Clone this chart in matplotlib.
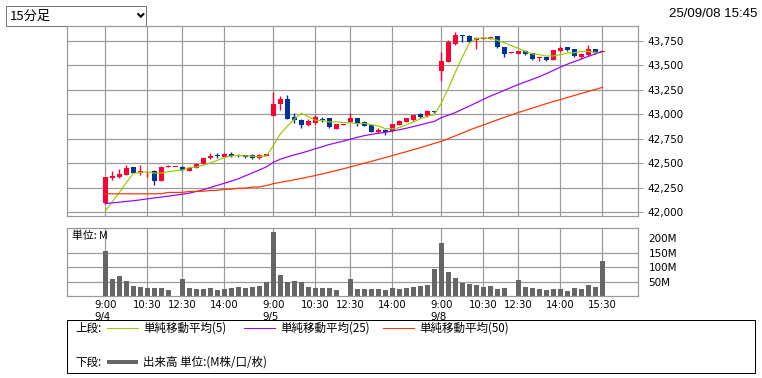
import matplotlib
matplotlib.use('Agg')
import matplotlib.pyplot as plt
from matplotlib.patches import Rectangle
import numpy as np

# ---- data ----
dates = ['9/4', '9/5', '9/8']
session = ['9:00', '9:15', '9:30', '9:45', '10:00', '10:15', '10:30', '10:45', '11:00', '11:15', '11:30',
           '12:30', '12:45', '13:00', '13:15', '13:30', '13:45', '14:00', '14:15', '14:30', '14:45',
           '15:00', '15:15', '15:30']
tick_times = ['9:00', '10:30', '12:30', '14:00']

opens = [42089, 42350, 42360, 42382, 42460, 42400, 42395, 42420, 42320, 42460, 42458, 42460,
         42420, 42450, 42490, 42548, 42583, 42566, 42593, 42585, 42580, 42582, 42555, 42570,
         42982, 43105, 43156, 42972, 42942, 42894, 42911, 42955, 42962, 42853, 42892, 42921,
         42962, 42921, 42894, 42816, 42839, 42826, 42894, 42921, 42938, 43003, 42982, 43034,
         43446, 43538, 43722, 43811, 43801, 43760, 43770, 43770, 43801, 43688, 43628, 43617,
         43648, 43627, 43578, 43586, 43560, 43648, 43688, 43668, 43586, 43607, 43668, 43640]
highs = [42362, 42420, 42435, 42480, 42462, 42480, 42415, 42425, 42470, 42480, 42464, 42470,
         42455, 42497, 42556, 42600, 42607, 42600, 42614, 42595, 42585, 42590, 42590, 42595,
         43228, 43190, 43197, 43010, 42952, 42952, 42990, 42972, 42965, 42905, 42897, 43013,
         42965, 42931, 42900, 42863, 42850, 42905, 42940, 42965, 42996, 43013, 43044, 43037,
         43637, 43760, 43842, 43815, 43811, 43791, 43795, 43801, 43805, 43692, 43640, 43650,
         43660, 43630, 43590, 43590, 43662, 43699, 43692, 43672, 43622, 43709, 43672, 43648]
lows = [42085, 42328, 42350, 42380, 42398, 42382, 42355, 42280, 42318, 42458, 42456, 42420,
        42415, 42448, 42488, 42546, 42553, 42560, 42560, 42558, 42555, 42545, 42545, 42568,
        42980, 43045, 42950, 42911, 42863, 42880, 42905, 42920, 42855, 42850, 42890, 42918,
        42880, 42875, 42820, 42805, 42785, 42822, 42890, 42918, 42935, 42965, 42975, 43013,
        43344, 43535, 43712, 43740, 43735, 43668, 43765, 43766, 43678, 43586, 43625, 43615,
        43610, 43560, 43545, 43545, 43555, 43640, 43648, 43586, 43569, 43600, 43617, 43638]
closes = [42358, 42370, 42390, 42450, 42400, 42415, 42400, 42320, 42460, 42470, 42462, 42430,
          42450, 42495, 42553, 42576, 42572, 42593, 42572, 42570, 42562, 42555, 42583, 42590,
          43105, 43156, 42952, 42942, 42894, 42931, 42972, 42945, 42865, 42900, 42894, 42962,
          42901, 42880, 42822, 42839, 42816, 42901, 42935, 42962, 42993, 42976, 43034, 43018,
          43548, 43740, 43811, 43801, 43740, 43781, 43781, 43791, 43688, 43617, 43636, 43648,
          43620, 43566, 43586, 43556, 43658, 43678, 43658, 43597, 43617, 43668, 43627, 43644]

ma5 = [42010, 42105, 42200, 42300, 42394, 42405, 42411, 42397, 42399, 42413, 42422, 42428,
       42454, 42461, 42478, 42501, 42529, 42558, 42573, 42577, 42574, 42570, 42568, 42572,
       42679, 42798, 42877, 42949, 43010, 42975, 42938, 42937, 42921, 42923, 42915, 42913,
       42904, 42907, 42892, 42881, 42852, 42852, 42863, 42891, 42921, 42953, 42980, 42997,
       43114, 43263, 43430, 43584, 43728, 43775, 43783, 43779, 43756, 43732, 43703, 43676,
       43642, 43617, 43611, 43595, 43597, 43609, 43627, 43629, 43642, 43644, 43633, 43631]
ma25 = [42087, 42093, 42100, 42108, 42115, 42124, 42134, 42144, 42153, 42162, 42172, 42182,
        42193, 42210, 42228, 42250, 42272, 42294, 42316, 42340, 42370, 42400, 42430, 42461,
        42508, 42540, 42563, 42585, 42603, 42624, 42647, 42668, 42690, 42708, 42725, 42745,
        42764, 42781, 42794, 42805, 42815, 42828, 42842, 42857, 42874, 42891, 42910, 42927,
        42965, 42991, 43017, 43051, 43083, 43118, 43152, 43185, 43215, 43245, 43274, 43304,
        43331, 43357, 43385, 43415, 43448, 43482, 43512, 43539, 43565, 43592, 43618, 43643]
ma50 = [42186, 42186, 42186, 42186, 42186, 42186, 42186, 42186, 42187, 42200, 42200, 42201,
        42210, 42211, 42212, 42220, 42221, 42232, 42233, 42243, 42244, 42255, 42256, 42270,
        42290, 42303, 42316, 42330, 42343, 42358, 42374, 42390, 42407, 42424, 42442, 42461,
        42480, 42499, 42518, 42538, 42557, 42577, 42597, 42617, 42638, 42658, 42680, 42702,
        42722, 42750, 42779, 42808, 42837, 42865, 42890, 42916, 42942, 42968, 42993, 43018,
        43040, 43063, 43086, 43108, 43130, 43150, 43171, 43192, 43213, 43234, 43254, 43275]

volumes = [156, 60, 70, 53, 36, 32, 29, 29, 29, 22, 1, 60, 28, 25, 25, 29, 22, 25, 29, 32, 30, 32, 36, 49,
           222, 74, 49, 53, 49, 32, 29, 29, 29, 22, 1, 60, 25, 25, 25, 25, 22, 29, 25, 29, 32, 36, 39, 94,
           184, 84, 63, 47, 43, 39, 33, 36, 25, 29, 1, 56, 32, 29, 25, 22, 25, 25, 18, 29, 25, 39, 32, 122]

price_ticks = list(range(42000, 43751, 250))
vol_ticks = [50, 100, 150, 200]

# ---- styling ----
RED = '#ff0033'
BLUE = '#003399'
GRID = '#999999'
CJK = ['Noto Sans CJK JP', 'DejaVu Sans']
PX = 0.72  # one pixel in points

W, H = 762, 378
fig = plt.figure(figsize=(W / 100, H / 100), dpi=100)
fig.patch.set_facecolor('white')


def px_rect(l, t, r, b):
    return [l / W, 1 - b / H, (r - l) / W, (b - t) / H]


# overlay in pixel coordinates for the page furniture
ov = fig.add_axes([0, 0, 1, 1])
ov.set_xlim(0, W)
ov.set_ylim(H, 0)
ov.axis('off')

# dropdown box
ov.add_patch(Rectangle((6, 6), 139.5, 19.5, facecolor='white', edgecolor='#767676', lw=PX))
ov.text(10, 16, '15分足', fontsize=9.5, family=CJK, va='center', ha='left')
ov.plot([137.5, 140.8, 144.1], [13.4, 16.7, 13.4], color='black', lw=1.5,
        solid_capstyle='butt', solid_joinstyle='miter')
ov.text(757, 14, '25/09/08 15:45', fontsize=9.5, family='Liberation Sans', ha='right', va='center')

# legend box
ov.add_patch(Rectangle((67, 320), 688, 53, facecolor='none', edgecolor='black', lw=PX))
leg_fs = 8.3
ov.text(75, 328, '上段:', fontsize=leg_fs, family=CJK, va='center')
for x0, col, lab in [(107, '#99cc00', '単純移動平均(5)'),
                     (244, '#9900ff', '単純移動平均(25)'),
                     (383, '#ff3300', '単純移動平均(50)')]:
    ov.plot([x0, x0 + 31], [328, 328], color=col, lw=PX)
    ov.text(x0 + 36, 328, lab, fontsize=leg_fs, family=CJK, va='center')
ov.text(75, 362, '下段:', fontsize=leg_fs, family=CJK, va='center')
ov.plot([107, 138], [362, 362], color='#666666', lw=4 * PX, solid_capstyle='butt')
ov.text(143, 362, '出来高 単位:(M株/口/枚)', fontsize=leg_fs, family=CJK, va='center')

x = np.arange(len(closes))
o = np.array(opens)
c = np.array(closes)
colors = np.where(c >= o, RED, BLUE)

grid_idx = []
grid_lab = []
for d, day in enumerate(dates):
    for t in tick_times:
        grid_idx.append(d * len(session) + session.index(t))
        grid_lab.append(f'{t}\n{day}' if t == '9:00' else t)
grid_idx.append(len(closes) - 1)
grid_lab.append(session[-1])

xlim = (-5.47, 76.1)

# ---- price panel ----
ax = fig.add_axes(px_rect(67, 26, 638, 216))
ax.set_axisbelow(True)
ax.vlines(x, lows, highs, color=colors, lw=1.0, zorder=2)
ax.bar(x, np.maximum(np.abs(c - o), 9), bottom=np.minimum(o, c), width=0.72,
       color=colors, lw=0, zorder=3)
ax.plot(x, ma5, color='#99cc00', lw=PX * 1.2, zorder=4)
ax.plot(x, ma25, color='#9900ff', lw=PX * 1.2, zorder=4)
ax.plot(x, ma50, color='#ff3300', lw=PX * 1.2, zorder=4)
ax.set_xlim(*xlim)
ax.set_ylim(41959, 43903)
ax.set_xticks(grid_idx)
ax.set_yticks(price_ticks)
ax.set_yticklabels([f'{v:,}' for v in price_ticks])
ax.yaxis.tick_right()
ax.tick_params(axis='x', length=0, labelbottom=False)
ax.tick_params(axis='y', length=5 * PX, width=PX, color=GRID, pad=3.5, labelsize=7.5)
ax.grid(True, color=GRID, lw=PX * 1.2)
for s in ax.spines.values():
    s.set_color(GRID)
    s.set_linewidth(PX * 1.2)

# ---- volume panel ----
axv = fig.add_axes(px_rect(67, 228.3, 638, 296.3))
axv.set_axisbelow(True)
axv.bar(x, volumes, width=0.7, color='#666666', lw=0)
axv.set_xlim(*xlim)
axv.set_ylim(0, 234.5)
axv.set_xticks(grid_idx)
axv.set_xticklabels(grid_lab, multialignment='left')
axv.set_yticks(vol_ticks)
axv.set_yticklabels([f'{v}M' for v in vol_ticks])
axv.yaxis.tick_right()
axv.tick_params(axis='x', length=0, pad=3, labelsize=7.3)
axv.tick_params(axis='y', length=0, pad=7.5, labelsize=7.5)
axv.grid(True, color=GRID, lw=PX * 1.2)
axv.get_ygridlines()[-1].set_visible(False)
for s in axv.spines.values():
    s.set_color(GRID)
    s.set_linewidth(PX * 1.2)
axv.text(5 / 571, 0.89, '単位: M', transform=axv.transAxes, fontsize=7.8, family=CJK,
         va='center', ha='left')

fig.savefig('out.png', dpi=100, facecolor='white')
